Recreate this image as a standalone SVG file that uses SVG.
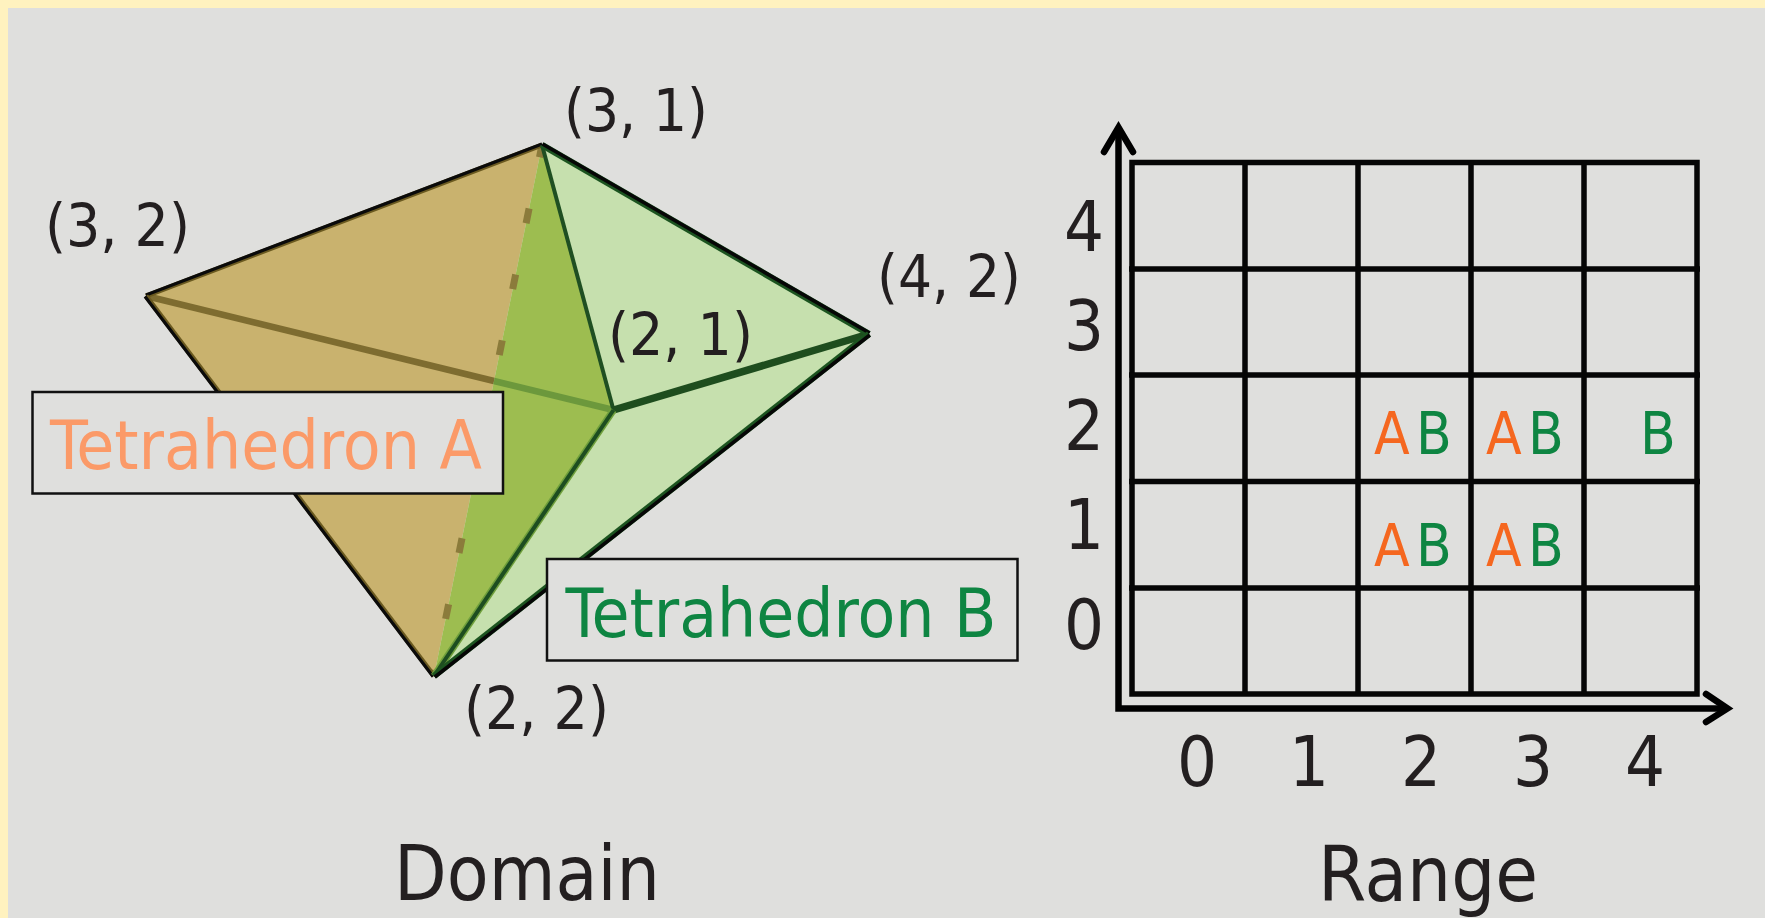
<svg xmlns="http://www.w3.org/2000/svg" width="1765" height="918" viewBox="0 0 1765 918">
<style>
text{font-family:"DejaVu Sans","Liberation Sans",sans-serif;font-stretch:condensed;fill:#231f20}
.d{font-size:70px;text-anchor:middle}
.c{font-size:59px}
.t{font-size:77px}
.n{font-size:68px}
.p{font-size:58px}
.a{fill:#f5671f}
.b{fill:#0e8542}
.box{fill:#dfdfdd;stroke:#111;stroke-width:2.5}
.g{stroke:#060606;stroke-width:5.5;fill:none}
.ax{stroke:#000;stroke-width:6.5;fill:none;stroke-linecap:round;stroke-linejoin:miter}
</style>
<rect width="1765" height="918" fill="#fff2bf"/>
<rect x="8" y="8" width="1757" height="910" fill="#dfdfdd"/>
<g id="tetrahedra">
<polygon points="146,296 542,145 434,676" fill="#c9b26e"/>
<polygon points="542,145 613.5,410 434,676" fill="#9dbd50"/>
<polygon points="542,145 869,334 613.5,410" fill="#c6e0ae"/>
<polygon points="613.5,410 869,334 434,676" fill="#c6e0ae"/>
<line x1="146" y1="296" x2="494" y2="381" stroke="#7e6c30" stroke-width="6.5"/>
<line x1="494" y1="381" x2="613.5" y2="410" stroke="#6c983c" stroke-width="6.5"/>
<line x1="542" y1="145" x2="434" y2="676" stroke="#8b7b3b" stroke-width="7" stroke-dasharray="15 52.3" stroke-dashoffset="2.5"/>
<line x1="146" y1="296" x2="542" y2="145" stroke="#6b5a20" stroke-width="5"/>
<line x1="146" y1="295" x2="542" y2="144" stroke="#0a0a0a" stroke-width="3.2"/>
<line x1="146" y1="296" x2="434" y2="676" stroke="#6b5a20" stroke-width="5"/>
<line x1="145" y1="296.5" x2="433" y2="676.5" stroke="#0a0a0a" stroke-width="3.2"/>
<line x1="542" y1="145" x2="613.5" y2="410" stroke="#1f4f22" stroke-width="4"/>
<line x1="613.5" y1="410" x2="869" y2="334" stroke="#1e4d1e" stroke-width="7.5"/>
<line x1="613.5" y1="410" x2="434" y2="676" stroke="#6f9f3c" stroke-width="7"/>
<line x1="613.5" y1="410" x2="434" y2="676" stroke="#1d4d20" stroke-width="4"/>
<line x1="542" y1="145" x2="869" y2="334" stroke="#1c5420" stroke-width="6.5"/>
<line x1="542.5" y1="144" x2="869.5" y2="333" stroke="#060606" stroke-width="3.5"/>
<line x1="869" y1="334" x2="434" y2="676" stroke="#1c5420" stroke-width="6.5"/>
<line x1="869.8" y1="335" x2="434.8" y2="677" stroke="#060606" stroke-width="3.5"/>
</g>
<g id="coords">
<text class="c" x="564" y="131" textLength="144" lengthAdjust="spacingAndGlyphs">(3, 1)</text>
<text class="c" x="45" y="246" textLength="145" lengthAdjust="spacingAndGlyphs">(3, 2)</text>
<text class="c" x="877" y="297" textLength="144" lengthAdjust="spacingAndGlyphs">(4, 2)</text>
<text class="c" x="608" y="355" textLength="145" lengthAdjust="spacingAndGlyphs">(2, 1)</text>
<text class="c" x="464" y="729" textLength="145" lengthAdjust="spacingAndGlyphs">(2, 2)</text>
</g>
<g id="tetrahedron-a">
<rect class="box" x="32.5" y="392" width="470.5" height="101.5"/>
<text class="n" x="50" y="469" textLength="432" lengthAdjust="spacingAndGlyphs" style="fill:#fb9a68">Tetrahedron A</text>
</g>
<g id="tetrahedron-b">
<rect class="box" x="547" y="559" width="470.5" height="101.5"/>
<text class="n b" x="565.5" y="637" textLength="431" lengthAdjust="spacingAndGlyphs">Tetrahedron B</text>
</g>
<g id="grid">
<rect class="g" x="1132" y="162.5" width="565" height="531.5"/>
<path class="g" d="M1245 162V694M1358 162V694M1471 162V694M1584 162V694M1129 269H1700M1129 375H1700M1129 481.5H1700M1129 588H1700"/>
</g>
<g id="axes">
<path class="ax" d="M1118.5 130V708.5H1725"/>
<path class="ax" d="M1104 152L1118.5 127.5L1133 152"/>
<path class="ax" d="M1706 694L1727.5 708.5L1706 722"/>
</g>
<g id="cells">
<text class="p a" x="1374" y="454">A</text><text class="p b" x="1416" y="454">B</text>
<text class="p a" x="1486" y="454">A</text><text class="p b" x="1528" y="454">B</text>
<text class="p b" x="1640" y="454">B</text>
<text class="p a" x="1374" y="566">A</text><text class="p b" x="1416" y="566">B</text>
<text class="p a" x="1486" y="566">A</text><text class="p b" x="1528" y="566">B</text>
</g>
<g id="y-labels">
<text class="d" x="1084" y="251">4</text>
<text class="d" x="1084" y="350">3</text>
<text class="d" x="1084" y="450">2</text>
<text class="d" x="1084" y="549">1</text>
<text class="d" x="1084" y="649">0</text>
</g>
<g id="x-labels">
<text class="d" x="1197" y="786">0</text>
<text class="d" x="1309" y="786">1</text>
<text class="d" x="1421" y="786">2</text>
<text class="d" x="1533" y="786">3</text>
<text class="d" x="1645" y="786">4</text>
</g>
<g id="titles">
<text class="t" x="394" y="900" textLength="266" lengthAdjust="spacingAndGlyphs">Domain</text>
<text class="t" x="1318" y="901" textLength="220" lengthAdjust="spacingAndGlyphs">Range</text>
</g>
</svg>
